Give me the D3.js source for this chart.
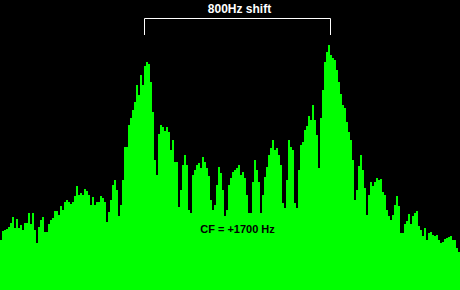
<!DOCTYPE html>
<html>
<head>
<meta charset="utf-8">
<script src="https://cdn.jsdelivr.net/npm/d3@7.9.0/dist/d3.min.js"></script>
<style>
  html, body { margin: 0; padding: 0; background: #000; }
  svg { display: block; }
  text { font-family: "Liberation Sans", Arial, sans-serif; font-weight: bold; }
</style>
</head>
<body>
<svg id="spec" width="460" height="290"></svg>
<script>
// spectrum level per bin (2 px wide bins)
const levels = [
  50, 59, 60, 61, 63, 67, 73, 62, 71, 62, 65, 60, 67, 67, 77, 66, 77, 60, 47, 63,
  70, 73, 58, 58, 66, 70, 72, 79, 79, 75, 84, 80, 88, 90, 88, 86, 88, 94, 104, 95,
  97, 95, 101, 99, 95, 85, 93, 85, 88, 88, 94, 92, 88, 68, 78, 90, 105, 110, 100, 74,
  85, 110, 143, 143, 165, 172, 180, 188, 205, 195, 215, 205, 224, 228, 226, 208, 178, 130, 115, 156,
  165, 163, 159, 163, 158, 140, 150, 128, 128, 83, 100, 125, 135, 125, 80, 77, 115, 120, 125, 127,
  122, 133, 128, 122, 114, 90, 80, 85, 105, 123, 117, 100, 74, 80, 105, 112, 118, 120, 122, 125,
  115, 118, 112, 95, 77, 77, 108, 130, 120, 108, 77, 95, 113, 123, 135, 142, 150, 140, 142, 135,
  125, 87, 82, 110, 150, 143, 140, 87, 82, 120, 145, 148, 160, 164, 174, 170, 185, 170, 155, 122,
  172, 200, 228, 238, 245, 235, 232, 230, 220, 208, 196, 185, 182, 168, 158, 150, 130, 90, 100, 124,
  135, 120, 102, 75, 95, 108, 104, 108, 112, 110, 111, 98, 95, 80, 74, 70, 75, 85, 94, 84,
  57, 57, 66, 69, 76, 66, 74, 77, 79, 64, 60, 54, 62, 50, 57, 58, 55, 54, 55, 50,
  47, 48, 51, 52, 53, 54, 50, 50, 42, 38
];
const freqRange = [678.5, 2657];   // Hz across the window
const centerFreq = 1700;
const shift = 800;
const shiftLabel = "800Hz shift";
const cfLabel = "CF = +1700 Hz";

const W = 460, H = 290;
const svg = d3.select("#spec");

const fx = d3.scaleLinear().domain(freqRange).range([0, W]);
const bin = d3.scaleLinear().domain([0, levels.length]).range([0, W]);
const y = d3.scaleLinear().domain([0, H]).range([H, 0]);

svg.append("g")
  .attr("shape-rendering", "crispEdges")
  .selectAll("rect")
  .data(levels)
  .join("rect")
  .attr("x", (d, i) => bin(i))
  .attr("width", (d, i) => bin(i + 1) - bin(i))
  .attr("y", d => y(d))
  .attr("height", d => H - y(d))
  .attr("fill", "#00ff00");

// bracket over the two tones
const lo = fx(centerFreq - shift / 2), hi = fx(centerFreq + shift / 2);
svg.append("path")
  .attr("d", `M${Math.floor(lo) + 0.5},35V18.5H${Math.floor(hi) + 0.5}V35`)
  .attr("fill", "none")
  .attr("stroke", "#fff")
  .attr("stroke-width", 1);

svg.append("text")
  .attr("x", (lo + hi) / 2 + 2)
  .attr("y", 13)
  .attr("text-anchor", "middle")
  .attr("font-size", 12)
  .attr("fill", "#fff")
  .text(shiftLabel);

svg.append("text")
  .attr("x", fx(centerFreq))
  .attr("y", 233)
  .attr("text-anchor", "middle")
  .attr("font-size", 11)
  .attr("fill", "#000")
  .text(cfLabel);
</script>
</body>
</html>
